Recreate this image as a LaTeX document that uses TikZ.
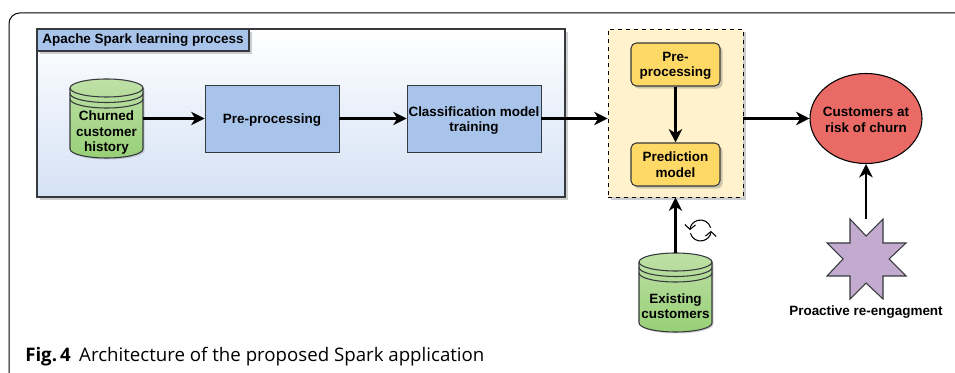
\documentclass[tikz,border=0pt]{standalone}
\usepackage{fontspec}
\setmainfont{Liberation Sans}
\newfontfamily\capfont{Open Sans}
\usetikzlibrary{arrows.meta,shapes.geometric,shadows,calc}
\definecolor{blueF}{HTML}{A9C4EB}
\definecolor{blueB}{HTML}{D4E1F5}
\definecolor{yelF}{HTML}{FFD966}
\definecolor{paleY}{HTML}{FFF2CC}
\definecolor{redF}{HTML}{EA6B66}
\definecolor{purF}{HTML}{C3ABD0}
\definecolor{edgeC}{HTML}{36393D}
\definecolor{cylTop}{HTML}{BFE0A6}
\definecolor{cylBot}{HTML}{97D077}
\tikzset{
  softshadow/.style={drop shadow={shadow xshift=2pt,shadow yshift=-2pt,opacity=.35,fill=black!55}},
  lbl/.style={font=\bfseries\fontsize{10.1}{11.6}\selectfont,align=center,text=black},
  blockbox/.style={draw=edgeC,line width=.7pt,fill=blueF,inner sep=0pt,minimum width=100.5pt,minimum height=50.25pt},
  ybox/.style={lbl,draw=edgeC,line width=.8pt,fill=yelF,rounded corners=4pt,inner sep=0pt,minimum width=66.75pt,minimum height=32.25pt,softshadow},
  conn/.style={draw=black,line width=1.7pt,-{Stealth[length=10pt,width=10pt,inset=3pt]}},
  cylnode/.style={inner sep=0pt,minimum width=54.75pt,minimum height=59.25pt},
  syncarc/.style={black,line width=.8pt,-{Straight Barb[length=3.5pt,width=8pt]}},
}
% #1 centre x, #2 top y, width 73, height 79 (pixels)
\newcommand{\dbcyl}[2]{%
  \begin{scope}[shift={(#1,#2)}]
    \fill[black!55,opacity=.3] (-35,10.5) -- (-35,71.5) arc[start angle=180,end angle=360,x radius=36.5,y radius=-9] -- (38,10.5) arc[start angle=0,end angle=180,x radius=36.5,y radius=-9] -- cycle;
    \path[draw=edgeC,line width=.8pt,top color=cylTop,bottom color=cylBot]
      (-36.5,9) -- (-36.5,70) arc[start angle=180,end angle=360,x radius=36.5,y radius=-9] -- (36.5,9) arc[start angle=0,end angle=180,x radius=36.5,y radius=-9] -- cycle;
    \draw[edgeC,line width=.8pt] (-36.5,9) arc[start angle=180,end angle=360,x radius=36.5,y radius=-9];
    \draw[edgeC,line width=.8pt] (-36.5,14.5) arc[start angle=180,end angle=360,x radius=36.5,y radius=-9];
    \draw[edgeC,line width=.8pt] (-36.5,20) arc[start angle=180,end angle=360,x radius=36.5,y radius=-9];
  \end{scope}}
\begin{document}
\begin{tikzpicture}[x=.75pt,y=-.75pt]
\useasboundingbox (0,0) rectangle (955,373);
\fill[white] (0,0) rectangle (955,373);
% outer frame
\coordinate (frameA) at (9,373);
\coordinate (frameB) at (955,13);
\draw[black,line width=.75pt,rounded corners=8pt] (frameA) |- (frameB);
% Spark learning area
\node[draw=edgeC,line width=.85pt,top color=white,bottom color=blueB,minimum width=396pt,minimum height=126pt,inner sep=0pt,softshadow] (spark) at (301,113) {};
\node[lbl,draw=edgeC,line width=.85pt,fill=blueF,minimum width=159pt,minimum height=16.5pt,inner sep=0pt,softshadow] (sparkhead) at (143,40) {Apache Spark learning process};
% churned cylinder
\dbcyl{106.5}{79}
\node[cylnode,label={[lbl,yshift=-10.8pt]center:{Churned\\customer\\history}}] (hist) at (106.5,118.5) {};
\node[blockbox,label={[lbl,yshift=-1.5pt]center:{Pre-processing}}] (pre) at (272,118.5) {};
\node[blockbox,label={[lbl,yshift=-1.5pt]center:{Classification model\\training}}] (train) at (474,118.5) {};
% deployment area
\node[draw=black,line width=.7pt,dashed,fill=paleY,minimum width=101.25pt,minimum height=126pt,inner sep=0pt,softshadow] (deploy) at (675.5,113) {};
\node[ybox] (pre2) at (675.5,64.5) {Pre-\\\smash{processing}};
\node[ybox] (pred) at (675.5,164.5) {Prediction\\model};
% risk ellipse
\node[ellipse,draw=black,line width=.8pt,fill=redF,minimum width=84pt,minimum height=67.5pt,inner sep=0pt,label={[lbl,yshift=-1.2pt]center:{Customers at\\risk of churn}}] (risk) at (866,118.5) {};
% existing customers cylinder
\dbcyl{675.5}{253}
\node[cylnode,label={[lbl,yshift=-10.2pt]center:{Existing\\customers}}] (exist) at (675.5,292.5) {};
% star
\node[minimum width=59pt,minimum height=60pt,inner sep=0pt] (burst) at (866,259) {};
\draw[draw=edgeC,line width=.8pt,fill=purF] (850,219) -- (866,236) -- (883,219) -- (883,243) -- (906,243) -- (889,259) -- (906,276) -- (883,276) -- (883,299) -- (866,283) -- (850,299) -- (850,276) -- (827,276) -- (843,259) -- (827,243) -- (850,243) -- cycle;
\node[lbl] (pro) at (866,312.5) {Proactive re-engagment};
% connectors
\draw[conn] (hist.east) -- (pre.west);
\draw[conn] (pre.east) -- (train.west);
\draw[conn] (train.east) -- (train.east -| deploy.west);
\draw[conn] (deploy.east |- risk.west) -- (risk.west);
\draw[conn] (pre2.south) -- (pred.north);
\draw[conn] (exist.north) -- (deploy.south);
\draw[conn] (burst.north) -- (risk.south);
% refresh icon
\begin{scope}[shift={(700.5,230.5)},x=.75pt,y=.75pt]
\draw[syncarc] (15:10.5) arc[start angle=15,end angle=178,radius=10.5];
\draw[syncarc] (195:10.5) arc[start angle=195,end angle=358,radius=10.5];
\end{scope}
% caption
\node[anchor=base west,inner sep=0pt,font=\fontsize{14}{16}\capfont] (cap) at (25,361) {\textbf{Fig.\,4}\hspace{.45em}Architecture of the proposed Spark application};
\end{tikzpicture}
\end{document}
